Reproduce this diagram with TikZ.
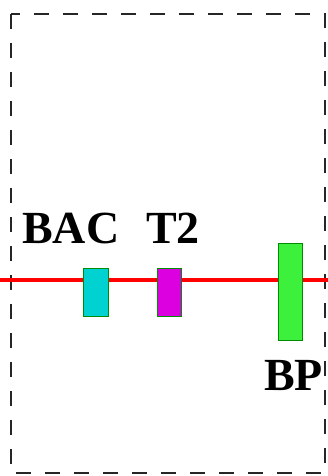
\documentclass[tikz,border=0pt]{standalone}
\usepackage{fontspec}
\setmainfont{Liberation Serif}
\begin{document}
\begin{tikzpicture}[x=1pt,y=-1pt,
  frame/.style={line width=2.8pt,dash pattern=on 15pt off 14pt,black!85},
  beam/.style={line width=4.5pt,red},
  counter/.style={draw=green!55!black,line width=1pt},
  tag/.style={font=\fontsize{46}{46}\selectfont\bfseries,inner sep=0pt,anchor=base west}]
  \useasboundingbox (0,0) rectangle (328,476);
  % dashed enclosure
  \draw[frame] (11,14) rectangle (325,473);
  % beam axis
  \coordinate (bl) at (0,280);
  \coordinate (br) at (328,280);
  \draw[beam] (bl) -- (br);
  % detectors along the beam
  \filldraw[counter,fill={rgb,255:red,0;green,210;blue,210}] (83,268) rectangle (108,316);
  \filldraw[counter,fill={rgb,255:red,220;green,0;blue,225}] (157,268) rectangle (181,316);
  \filldraw[counter,fill={rgb,255:red,60;green,240;blue,60}] (278,243) rectangle (302,340);
  % labels
  \node[tag] (bac) at (22,243) {BAC};
  \node[tag] (t2) at (146,243) {T2};
  \node[tag] (bp) at (264,390) {BP};
\end{tikzpicture}
\end{document}
